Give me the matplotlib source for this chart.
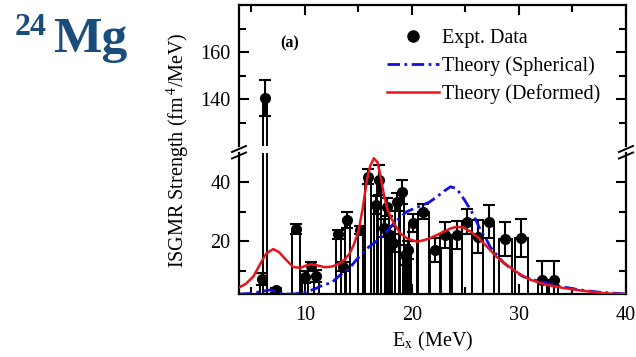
import matplotlib
matplotlib.use("Agg")
import matplotlib.pyplot as plt
from matplotlib.lines import Line2D
from matplotlib.ticker import MultipleLocator, FixedLocator

plt.rcParams['font.family'] = ['Liberation Serif', 'DejaVu Serif']
plt.rcParams['mathtext.fontset'] = 'stix'

# ---- experimental ISGMR strength (binned) ----
energy = [5.98, 6.30, 7.29, 9.16, 10.03, 10.59, 11.06, 13.14, 13.60, 13.98,
          15.17, 15.89, 16.64, 16.94, 17.35, 17.66, 17.91, 18.19, 18.60, 19.07,
          19.37, 19.68, 20.10, 21.08, 22.18, 23.10, 24.20, 25.14, 26.13, 27.16,
          28.72, 30.21, 32.20, 33.23]
strength = [7.0, 140.5, 3.2, 24.0, 7.9, 11.5, 8.2, 22.3, 11.3, 27.2,
            23.8, 41.9, 32.3, 40.8, 24.4, 31.7, 22.1, 19.3, 33.4, 36.8,
            15.3, 17.0, 26.1, 30.0, 17.0, 22.1, 22.1, 26.6, 21.5, 26.6,
            20.8, 21.0, 6.8, 6.8]
error = [2.0, 7.7, 1.0, 1.7, 2.0, 1.5, 2.0, 1.5, 1.5, 2.8,
         1.5, 2.5, 3.0, 5.0, 3.0, 3.0, 3.0, 3.0, 3.0, 4.0,
         3.4, 3.0, 3.0, 2.5, 4.0, 4.5, 4.7, 4.3, 5.6, 5.7,
         5.7, 6.5, 6.5, 6.5]
bin_width = [0.3, 0.4, 0.3, 0.7, 0.5, 0.5, 0.5, 0.5, 0.4, 0.4,
             0.5, 0.5, 0.4, 0.4, 0.4, 0.4, 0.4, 0.4, 0.4, 0.4,
             0.4, 0.4, 0.8, 1.0, 1.0, 1.0, 1.0, 1.0, 1.0, 1.1,
             1.2, 1.2, 0.9, 0.9]

# ---- theory: spherical ----
sph_e = [3.9, 5.0, 6.0, 6.8, 7.5, 8.0, 9.0, 10.2, 11.0, 11.7,
         12.5, 13.3, 14.1, 14.9, 15.8, 16.7, 17.5, 18.3, 19.5, 20.8,
         21.6, 22.3, 23.0, 23.6, 24.1, 24.5, 25.0, 25.5, 26.0, 26.4,
         26.9, 27.3, 28.0, 28.6, 29.5, 30.4, 31.5, 32.6, 34.0, 35.7,
         37.5, 40.0]
sph_s = [2.0, 2.2, 2.9, 3.4, 2.6, 2.0, 2.0, 2.8, 3.8, 5.1,
         5.8, 8.5, 10.5, 14.0, 17.5, 20.0, 22.5, 26.0, 30.0, 32.0,
         33.2, 35.0, 37.0, 38.5, 38.0, 36.3, 33.5, 30.6, 27.0, 23.8,
         21.0, 18.1, 15.0, 12.5, 10.0, 7.9, 6.7, 5.7, 4.5, 3.4,
         2.6, 2.0]

# ---- theory: deformed ----
def_e = [3.9, 4.5, 5.2, 5.8, 6.4, 7.05, 7.6, 8.2, 8.9, 9.6,
         10.2, 10.65, 11.2, 11.9, 12.6, 13.3, 13.8, 14.2, 14.6, 15.0,
         15.4, 15.8, 16.1, 16.45, 16.8, 17.1, 17.4, 17.7, 18.0, 18.5,
         18.9, 19.6, 20.5, 21.1, 21.7, 22.4, 23.0, 23.6, 24.2, 24.8,
         25.5, 26.1, 26.7, 27.3, 27.9, 28.7, 29.5, 30.3, 31.1, 32.6,
         34.2, 35.8, 37.3, 38.7, 40.0]
def_s = [4.3, 5.5, 8.0, 12.0, 15.8, 17.3, 16.2, 13.8, 11.2, 10.9,
         11.8, 12.1, 11.7, 11.1, 11.4, 12.5, 14.0, 15.9, 19.0, 23.2,
         31.0, 40.8, 45.5, 48.2, 46.8, 41.5, 35.5, 31.0, 28.3, 25.0,
         22.7, 20.8, 19.8, 20.3, 21.0, 22.2, 23.2, 24.3, 24.9, 24.6,
         23.2, 21.5, 19.3, 17.0, 14.7, 12.3, 10.2, 8.3, 6.8, 5.1,
         4.0, 3.2, 2.5, 2.1, 2.0]

# y tick values of the two axis segments
upper_major = [140, 160]
upper_minor = [130, 150, 170]
lower_major = [20, 40]
lower_minor = [10, 30]

W, H = 636, 357
fig = plt.figure(figsize=(W / 100, H / 100), dpi=100)


def frac_box(x0, y_top, x1, y_bot):
    return [x0 / W, 1 - y_bot / H, (x1 - x0) / W, (y_bot - y_top) / H]


ax_top = fig.add_axes(frac_box(239, 5, 626, 146))
ax_bot = fig.add_axes(frac_box(239, 153, 626, 294))

dash_dot = (0, (4.5, 1.6, 1.0, 1.6))
for ax in (ax_top, ax_bot):
    ax.bar(energy, strength, width=bin_width, fill=False, edgecolor='black',
           linewidth=1.4, zorder=2)
    ax.errorbar(energy, strength, yerr=error, fmt='o', color='black',
                markersize=7, elinewidth=1.5, capsize=4, capthick=1.5, zorder=3)
    ax.plot(sph_e, sph_s, color='#1010e0', linewidth=2.0, linestyle=dash_dot, zorder=4)
    ax.plot(def_e, def_s, color='#e8141c', linewidth=1.8, zorder=5)
    ax.set_xlim(3.85, 40)
    ax.xaxis.set_major_locator(MultipleLocator(10))
    ax.xaxis.set_minor_locator(MultipleLocator(5))
    ax.tick_params(which='both', direction='in', top=True, right=True, width=1.5,
                   labelsize=14.5, pad=6)
    ax.tick_params(which='major', length=7)
    ax.tick_params(which='minor', length=5)
    for sp in ax.spines.values():
        sp.set_linewidth(1.6)

ax_top.set_ylim(120, 180)
ax_bot.set_ylim(2, 50)
ax_top.yaxis.set_major_locator(FixedLocator(upper_major))
ax_top.yaxis.set_minor_locator(FixedLocator(upper_minor))
ax_bot.yaxis.set_major_locator(FixedLocator(lower_major))
ax_bot.yaxis.set_minor_locator(FixedLocator(lower_minor))
ax_top.spines['bottom'].set_visible(False)
ax_bot.spines['top'].set_visible(False)
ax_top.tick_params(which='both', bottom=False, labelbottom=False)
ax_bot.tick_params(which='both', top=False)
ax_bot.tick_params(axis='x', which='both', pad=9)

# axis-break marks on both spines
for xs in (239, 626):
    for dy in (0, 6.5):
        fig.add_artist(Line2D([(xs - 7) / W, (xs + 7) / W],
                              [1 - (152 + dy) / H, 1 - (146 + dy) / H],
                              color='black', linewidth=1.4))

fig.text(178 / W, 1 - 150 / H, 'ISGMR Strength (fm$^{\\,4}$/MeV)', rotation=90,
         ha='center', va='center', fontsize=14.5)
ax_bot.set_xlabel('E$_{\\rm x}$ (MeV)', fontsize=14.5, labelpad=3)

ax_top.text(0.132, 0.73, '(a)', transform=ax_top.transAxes, fontsize=11.5,
            fontweight='bold', ha='center', va='center')

handles = [
    Line2D([], [], marker='o', color='black', linestyle='none', markersize=8),
    Line2D([], [], color='#1010e0', linewidth=2.0, linestyle=dash_dot),
    Line2D([], [], color='#e8141c', linewidth=1.8),
]
labels = ['Expt. Data', 'Theory (Spherical)', 'Theory (Deformed)']
ax_top.legend(handles, labels, loc='upper left', bbox_to_anchor=(0.382, 0.83),
              frameon=False, fontsize=14.5, borderpad=0, borderaxespad=0,
              handlelength=2.6, handletextpad=0.15, labelspacing=0.4)

# nucleus label
title_color = '#1b4d7c'
fig.text(15 / W, 1 - 35 / H, '24', fontsize=23, fontweight='bold',
         color=title_color, ha='left', va='baseline')
fig.text(53 / W, 1 - 52 / H, 'Mg', fontsize=37, fontweight='bold',
         color=title_color, ha='left', va='baseline')

fig.savefig('out.png', dpi=100)
